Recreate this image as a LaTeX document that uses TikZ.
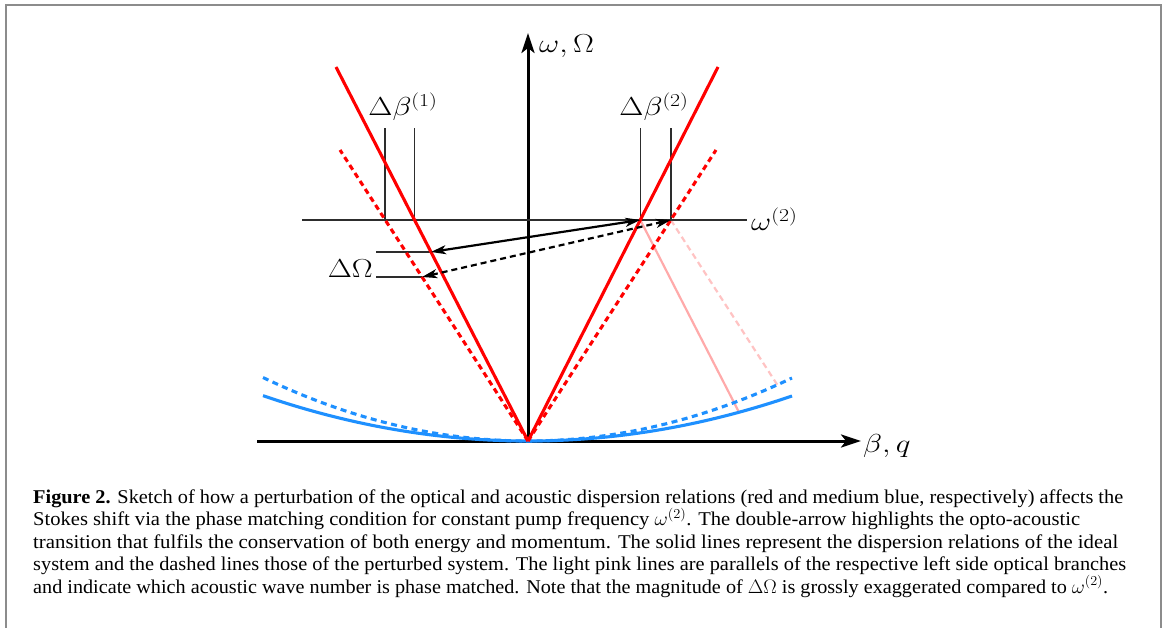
\RequirePackage{fix-cm}
\documentclass[tikz,border=0pt]{standalone}
\usepackage{fontspec}
\usepackage{graphicx}
\newfontfamily\capfont{Liberation Serif}
\usetikzlibrary{arrows.meta,intersections,calc}
\definecolor{skyb}{RGB}{30,144,255}
\definecolor{pinkA}{RGB}{255,170,170}
\definecolor{pinkB}{RGB}{255,195,195}
\definecolor{framec}{RGB}{140,140,140}
\definecolor{tickc}{RGB}{45,45,45}
\newlength\caplen
\newcommand\capline[2]{\settowidth\caplen{#2}\pgfmathsetmacro\capsx{#1/\caplen}\scalebox{\capsx}[1]{#2}}
\newcommand\wlab[1]{\scalebox{1.2}[1]{$#1$}}
\begin{document}
\begin{tikzpicture}[x=1pt,y=-1pt,
  redl/.style={draw=red, line width=3.1pt},
  reddash/.style={redl, dash pattern=on 5.5pt off 4pt},
  bluel/.style={draw=skyb, line width=3.1pt},
  bluedash/.style={bluel, dash pattern=on 6pt off 4.5pt},
  axisl/.style={draw=black, line width=3pt, -{Stealth[length=20pt,width=13pt,inset=5pt]}},
  thinl/.style={draw=tickc, line width=1.6pt},
  darr/.style={draw=black, line width=2.2pt, {Stealth[length=15pt,width=9pt,inset=4pt]}-{Stealth[length=15pt,width=9pt,inset=4pt]}},
  ddarr/.style={darr, dash pattern=on 6pt off 4pt},
  pinks/.style={draw=pinkA, line width=2.2pt},
  pinkd/.style={draw=pinkB, line width=2.2pt, dash pattern=on 6pt off 4pt},
  framel/.style={draw=framec, line width=2pt},
  lab/.style={font=\fontsize{26}{30}\selectfont, inner sep=0pt},
  capn/.style={font=\capfont\fontsize{19.5}{23}\selectfont, inner sep=0pt},
]
\useasboundingbox (0,0) rectangle (1166,628);
% frame
\coordinate (F1) at (6,628); \coordinate (F2) at (6,5);
\coordinate (F3) at (1161,5); \coordinate (F4) at (1161,628);
\draw[framel] (F1) -- (F2) -- (F3) -- (F4);

% key points
\coordinate (O) at (528,441);
\coordinate (XL) at (257,441); \coordinate (XR) at (861,441);
\coordinate (YT) at (528,33);
\coordinate (RT) at (718,67); \coordinate (LT) at (336,67);
\coordinate (RD) at (716,150); \coordinate (LD) at (340,150);
\coordinate (W1) at (302,220); \coordinate (W2) at (747,220);
\coordinate (H1a) at (376,252); \coordinate (H1b) at (520,252);
\coordinate (H2a) at (376,277); \coordinate (H2b) at (520,277);
\coordinate (T) at (0,128);

\coordinate (A) at (intersection of O--RT and W1--W2);
\coordinate (Ad) at (intersection of O--RD and W1--W2);
\coordinate (B) at (intersection of O--LT and W1--W2);
\coordinate (Bd) at (intersection of O--LD and W1--W2);
\coordinate (E1) at (intersection of O--LT and H1a--H1b);
\coordinate (E2) at (intersection of O--LD and H2a--H2b);

% axes
\draw[axisl] (XL) -- (XR);
\draw[axisl] (O) -- (YT);

% pink parallels
\path[name path=blues] plot[domain=263:792, samples=80] (\x, {441-45*((\x-528)/264)^2});
\path[name path=blued] plot[domain=263:792, samples=80] (\x, {441-63*((\x-528)/264)^2});
\path[name path=pa] (A) -- ($(A)+(O)-(LT)$);
\path[name path=pb] (Ad) -- ($(Ad)+(O)-(LD)$);
\path[name intersections={of=pa and blues, by=PA}];
\path[name intersections={of=pb and blued, by=PB}];
\draw[pinks] (A) -- (PA);
\draw[pinkd] (Ad) -- (PB);

% acoustic branches
\draw[bluel] plot[domain=263:792, samples=80] (\x, {441-45*((\x-528)/264)^2});
\draw[bluedash] plot[domain=263:792, samples=80] (\x, {441-63*((\x-528)/264)^2});

% pump frequency line and ticks
\draw[thinl] (W1) -- (W2);
\draw[thinl] (B) -- (B |- T);
\draw[thinl] (Bd) -- (Bd |- T);
\draw[thinl] (A) -- (A |- T);
\draw[thinl] (Ad) -- (Ad |- T);
\draw[thinl] (H1a) -- (E1);
\draw[thinl] (H2a) -- (E2);

% optical branches
\draw[redl] (O) -- (RT);
\draw[redl] (O) -- (LT);
\draw[reddash] (O) -- (RD);
\draw[reddash] (O) -- (LD);

% transitions
\draw[darr] (E1) -- (A);
\draw[ddarr] (E2) -- (Ad);

% labels
\node[lab, anchor=base west] (wl) at (539,53) {\wlab{\omega,\Omega}};
\node[lab, anchor=base west] (bq) at (863,452) {\wlab{\beta,q}};
\node[lab, anchor=base] (db1) at (403,116) {\wlab{\Delta\beta^{(1)}}};
\node[lab, anchor=base] (db2) at (654,116) {\wlab{\Delta\beta^{(2)}}};
\node[lab, anchor=base east] (dO) at (373,277) {\wlab{\Delta\Omega}};
\node[lab, anchor=base west] (w2) at (751,231) {\wlab{\omega^{(2)}}};

% caption
\node[capn, anchor=base west] (c1) at (33,503) {\capline{1090}{\textbf{Figure 2.} Sketch of how a perturbation of the optical and acoustic dispersion relations (red and medium blue, respectively) affects the}};
\node[capn, anchor=base west] (c2) at (33,525.5) {\capline{1047}{Stokes shift via the phase matching condition for constant pump frequency $\omega^{(2)}$. The double-arrow highlights the opto-acoustic}};
\node[capn, anchor=base west] (c3) at (33,548) {\capline{1085}{transition that fulfils the conservation of both energy and momentum. The solid lines represent the dispersion relations of the ideal}};
\node[capn, anchor=base west] (c4) at (33,570.5) {\capline{1093}{system and the dashed lines those of the perturbed system. The light pink lines are parallels of the respective left side optical branches}};
\node[capn, anchor=base west] (c5) at (33,593) {\capline{1075}{and indicate which acoustic wave number is phase matched. Note that the magnitude of $\Delta\Omega$ is grossly exaggerated compared to $\omega^{(2)}$.}};
\end{tikzpicture}
\end{document}
